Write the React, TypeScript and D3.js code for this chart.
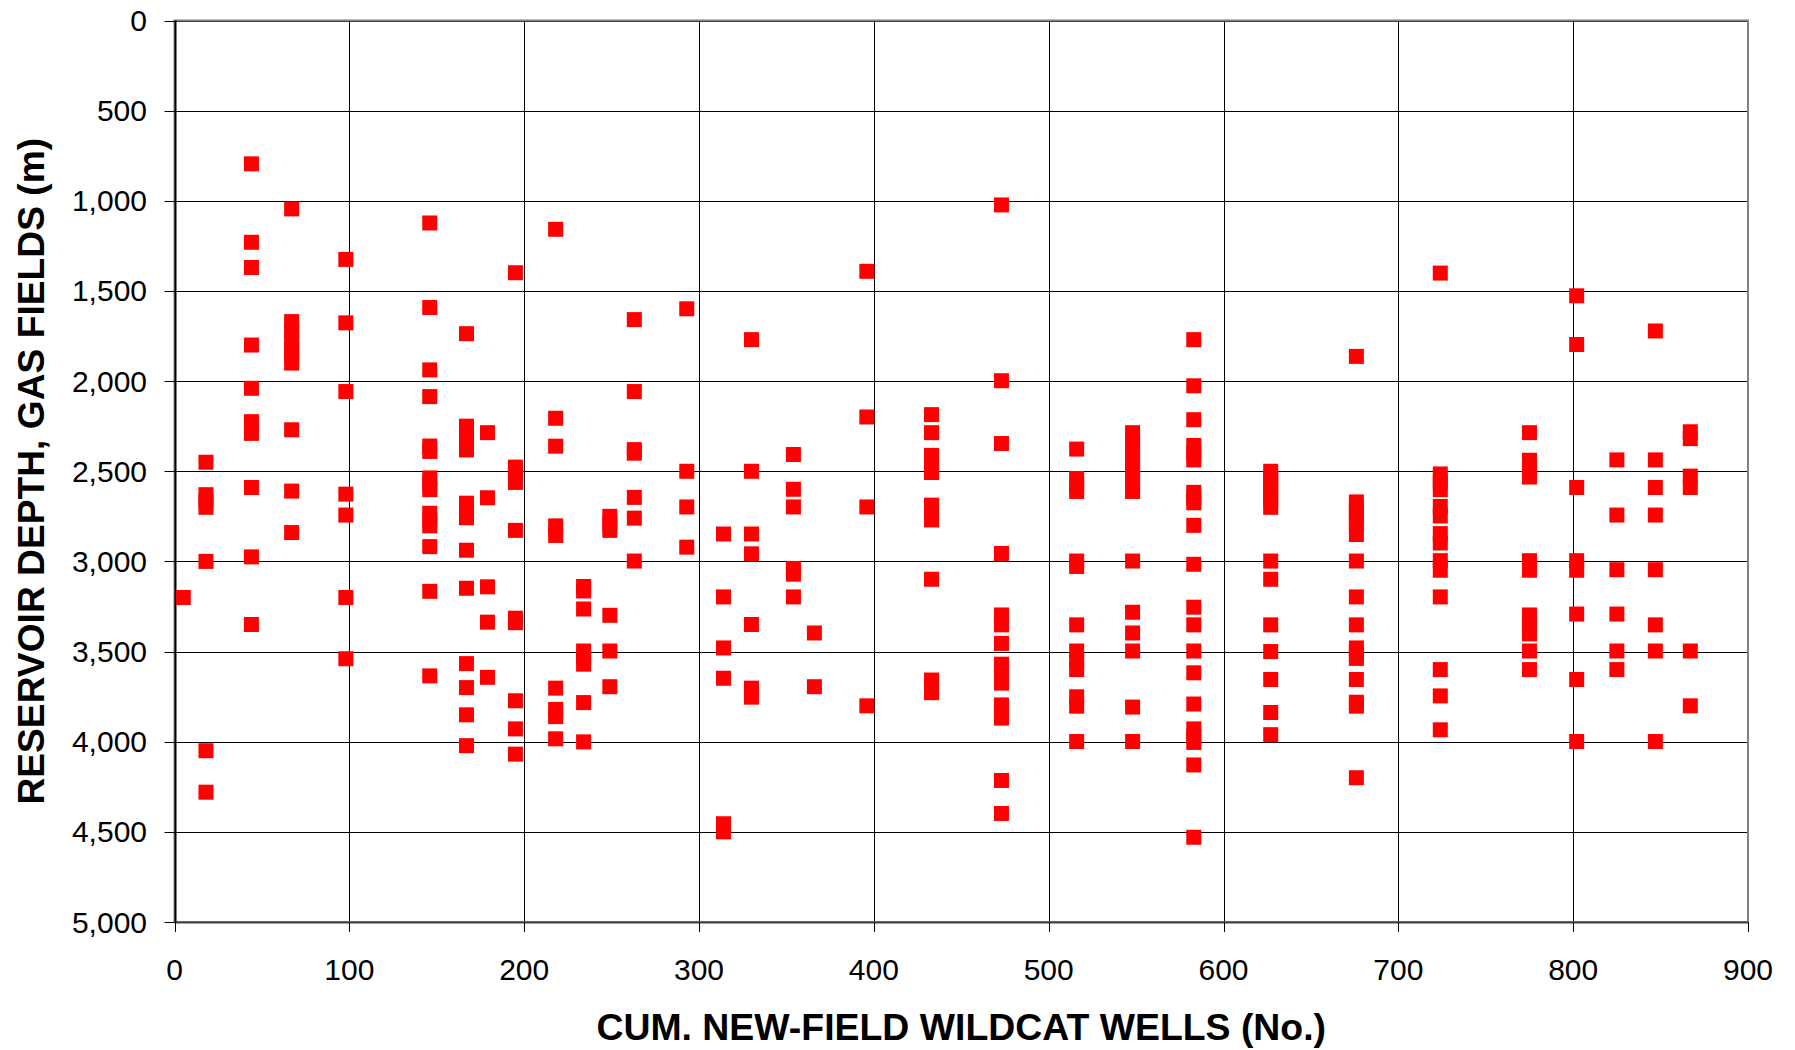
import React from "react";
import * as d3 from "d3";

// Cumulative new-field wildcat wells (x position of each column of points)
const wellCounts = [5, 18, 44, 67, 98, 146, 167, 179, 195, 218, 234, 249, 263, 293, 314, 330, 354, 366, 396, 433, 473, 516, 548, 583, 627, 676, 724, 775, 802, 825, 847, 867];

// Reservoir depths (m) of gas fields discovered at each well count
const depthGroups: number[][] = [
  [3200],
  [2450, 2630, 2665, 2700, 3000, 4050, 4280],
  [795, 1230, 1370, 1800, 2040, 2225, 2290, 2590, 2975, 3350],
  [1045, 1670, 1720, 1770, 1820, 1860, 1900, 2270, 2610, 2840],
  [1325, 1677, 2058, 2627, 2743, 3200, 3540],
  [1123, 1592, 1938, 2086, 2360, 2390, 2537, 2570, 2602, 2733, 2770, 2803, 2918, 3166, 3635],
  [1737, 2250, 2300, 2340, 2382, 2677, 2720, 2758, 2938, 3149, 3567, 3700, 3851, 4022],
  [2286, 2647, 3141, 3337, 3643],
  [1399, 2477, 2520, 2562, 2828, 3315, 3340, 3773, 3929, 4069],
  [1158, 2206, 2361, 2803, 2856, 3703, 3821, 3861, 3984],
  [3139, 3164, 3264, 3497, 3535, 3570, 3783, 4001],
  [2750, 2790, 2828, 3299, 3497, 3695],
  [1659, 2058, 2380, 2400, 2645, 2760, 2998],
  [1599, 2500, 2698, 2921],
  [2848, 3197, 3480, 3648, 4455, 4500],
  [1770, 2500, 2848, 2958, 3350, 3703, 3753],
  [2407, 2600, 2698, 3039, 3071, 3197],
  [3397, 3695],
  [1391, 2199, 2698, 3801],
  [2186, 2286, 2412, 2440, 2470, 2507, 2688, 2730, 2770, 3099, 3658, 3690, 3728],
  [1023, 1998, 2346, 2956, 3297, 3325, 3352, 3455, 3570, 3620, 3675, 3796, 3835, 3869, 4215, 4398],
  [2377, 2540, 2580, 2612, 2998, 3028, 3352, 3497, 3550, 3600, 3751, 3803, 3999],
  [2286, 2340, 2380, 2420, 2460, 2500, 2540, 2580, 2612, 2998, 3282, 3397, 3497, 3808, 3999],
  [1770, 2026, 2214, 2357, 2400, 2437, 2617, 2650, 2675, 2800, 3016, 3254, 3352, 3497, 3618, 3791, 3929, 3970, 4004, 4129, 4530],
  [2500, 2540, 2580, 2620, 2660, 2700, 2998, 3099, 3352, 3500, 3655, 3838, 3961],
  [1863, 2670, 2710, 2750, 2790, 2851, 2998, 3197, 3352, 3480, 3510, 3538, 3655, 3781, 3803, 4200],
  [1401, 2515, 2560, 2602, 2695, 2748, 2846, 2898, 2996, 3049, 3197, 3600, 3746, 3934],
  [2286, 2439, 2490, 2532, 2996, 3049, 3297, 3330, 3370, 3402, 3497, 3600],
  [1527, 1797, 2590, 2996, 3049, 3292, 3655, 3999],
  [2437, 2743, 3046, 3292, 3497, 3600],
  [1722, 2437, 2590, 2743, 3046, 3352, 3497, 3999],
  [2281, 2319, 2527, 2590, 3497, 3801],
];

const xTicks = [0, 100, 200, 300, 400, 500, 600, 700, 800, 900];
const yTicks = [0, 500, 1000, 1500, 2000, 2500, 3000, 3500, 4000, 4500, 5000];
const xTitle = "CUM. NEW-FIELD WILDCAT WELLS (No.)";
const yTitle = "RESERVOIR DEPTH, GAS FIELDS (m)";

export default function App() {
  const W = 1795, H = 1050;
  const left = 174.5, right = 1748, top = 20.5, bottom = 922;
  const x = d3.scaleLinear().domain([0, 900]).range([left, right]);
  const y = d3.scaleLinear().domain([0, 5000]).range([top, bottom]);
  const fmt = d3.format(",");
  const ms = 15;
  const points = wellCounts.flatMap((w, i) => depthGroups[i].map((d) => ({ w, d })));
  const font = "'Liberation Sans', Arial, sans-serif";
  const r = (v: number) => Math.round(v) + 0.5;

  return (
    <svg width={W} height={H} style={{ position: "absolute", left: 0, top: 0, background: "#fff" }}>
      <rect x={0} y={0} width={W} height={H} fill="#fff" />
      {/* gridlines */}
      {yTicks.map((t) => (
        <line key={"gy" + t} x1={left} x2={right} y1={r(y(t))} y2={r(y(t))} stroke="#000" strokeWidth={1} />
      ))}
      {xTicks.map((t) => (
        <line key={"gx" + t} y1={top} y2={bottom} x1={r(x(t))} x2={r(x(t))} stroke="#000" strokeWidth={1} />
      ))}
      {/* plot border */}
      <rect x={left} y={top} width={right - left} height={bottom - top} fill="none" stroke="#808080" strokeWidth={2} />
      {/* axes */}
      <line x1={r(left)} x2={r(left)} y1={top} y2={bottom} stroke="#000" strokeWidth={2} />
      <line x1={left} x2={right} y1={r(bottom)} y2={r(bottom)} stroke="#444" strokeWidth={2} />
      {yTicks.map((t) => (
        <g key={"ty" + t}>
          <line x1={left - 10} x2={left} y1={r(y(t))} y2={r(y(t))} stroke="#000" strokeWidth={1} />
          <text x={147} y={y(t)} dy="0.35em" textAnchor="end" fontFamily={font} fontSize={30} fill="#000">
            {fmt(t)}
          </text>
        </g>
      ))}
      {xTicks.map((t) => (
        <g key={"tx" + t}>
          <line y1={bottom} y2={bottom + 10} x1={r(x(t))} x2={r(x(t))} stroke="#000" strokeWidth={1} />
          <text x={x(t)} y={969} dy="0.35em" textAnchor="middle" fontFamily={font} fontSize={30} fill="#000">
            {t}
          </text>
        </g>
      ))}
      {/* points */}
      {points.map((p, i) => (
        <rect key={i} x={x(p.w) - ms / 2} y={y(p.d) - ms / 2} width={ms} height={ms} fill="#ff0000" />
      ))}
      {/* titles */}
      <text x={(left + right) / 2} y={1027} dy="0.35em" textAnchor="middle" fontFamily={font} fontSize={37.4} fontWeight="bold" fill="#000">
        {xTitle}
      </text>
      <text transform={`translate(31, ${(top + bottom) / 2}) rotate(-90)`} dy="0.35em" textAnchor="middle" fontFamily={font} fontSize={37.2} fontWeight="bold" fill="#000">
        {yTitle}
      </text>
    </svg>
  );
}
